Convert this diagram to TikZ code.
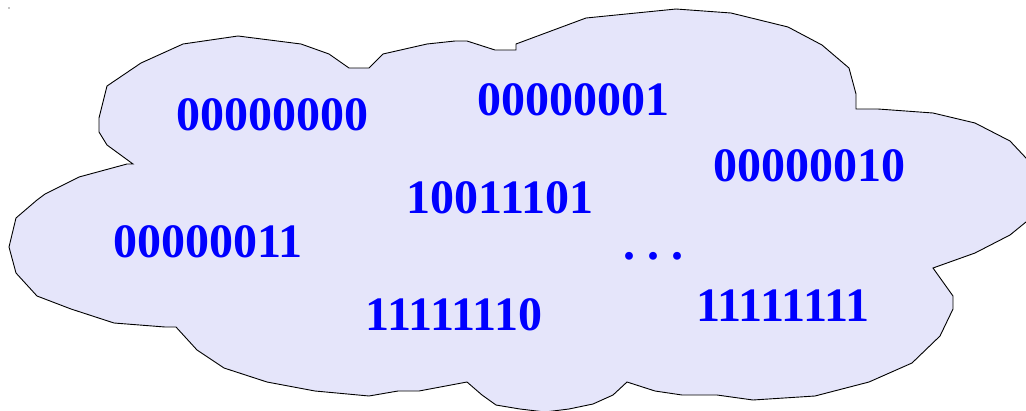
\documentclass[tikz,border=0pt]{standalone}
\usepackage{fontspec}
\setmainfont{Liberation Serif}
\definecolor{cloudfill}{RGB}{229,229,250}
\definecolor{bitblue}{RGB}{0,0,255}
\tikzset{
  bits/.style={text=bitblue, font=\fontsize{48}{48}\selectfont\bfseries, inner sep=0pt, outer sep=0pt},
  cloudshape/.style={fill=cloudfill, draw=black, line width=0.9pt, line join=miter}
}
\begin{document}
\begin{tikzpicture}[x=1pt,y=-1pt]
\useasboundingbox (0,0) rectangle (1026,410);
\fill[black] (9,8) circle (0.7);
\draw[cloudshape] (238,36) -- (301,44) -- (329,54) -- (349,68) -- (369,68) -- (383,54) -- (427,44) -- (455,41) -- (467,41) -- (495,50) -- (516,50) -- (516,44) -- (586,18) -- (676,9) -- (731,13) -- (788,27) -- (822,45) -- (849,68) -- (856,94) -- (856,109) -- (878,109) -- (933,113) -- (975,123) -- (1010,141) -- (1026,158) -- (1040,180) -- (1040,205) -- (1026,222) -- (1010,235) -- (975,253) -- (933,268) -- (953,296) -- (953,309) -- (940,336) -- (912,363) -- (869,382) -- (815,396) -- (753,400) -- (717,395) -- (682,395) -- (655,391) -- (627,382) -- (613,395) -- (593,404) -- (569,409) -- (545,412) -- (520,409) -- (496,405) -- (482,395) -- (467,382) -- (419,391) -- (398,391) -- (369,396) -- (315,391) -- (267,382) -- (224,368) -- (197,350) -- (176,327) -- (165,327) -- (114,323) -- (71,309) -- (37,296) -- (16,273) -- (9,247) -- (16,218) -- (37,200) -- (45,194) -- (79,177) -- (127,164) -- (133,164) -- (107,145) -- (99,132) -- (99,118) -- (107,86) -- (141,63) -- (183,44) -- cycle;
\node[bits] (b0) at (272,115) {00000000};
\node[bits] (b1) at (573.5,100) {00000001};
\node[bits] (b2) at (809,166) {00000010};
\node[bits] (bx) at (500,198) {10011101};
\node[bits] (b3) at (208,242) {00000011};
\node[bits] (b254) at (454,315) {11111110};
\node[bits] (b255) at (783,306) {11111111};
\node[bits, anchor=base] (dots) at (653.5,259) {.\kern12.5pt.\kern12.5pt.};
\end{tikzpicture}
\end{document}
